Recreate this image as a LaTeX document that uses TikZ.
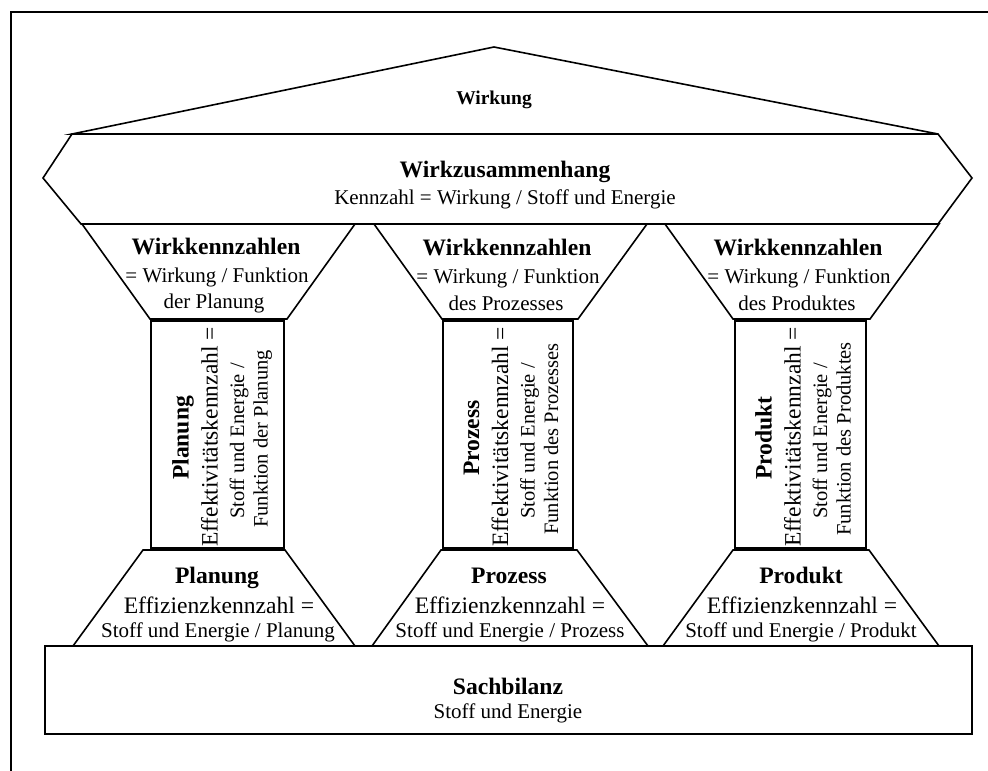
\documentclass[tikz,border=0pt]{standalone}
\usepackage{fontspec}
\setmainfont{Liberation Serif}
\begin{document}
\begin{tikzpicture}[x=1pt,y=-1pt,
  outline/.style={draw=black,line width=1.6pt,line join=miter,fill=white},
  frameline/.style={draw=black,line width=1.5pt},
  title/.style={font=\fontsize{23.6}{27}\selectfont\bfseries,anchor=base,inner sep=0pt},
  body/.style={font=\fontsize{21}{25}\selectfont,anchor=base,inner sep=0pt},
  big/.style={font=\fontsize{23.6}{27}\selectfont,anchor=base,inner sep=0pt}]
\useasboundingbox (0,0) rectangle (988,771);
% page frame
\draw[frameline] (11,771) -- (11,12) -- (988,12);

% roof
\draw[outline] (72,134) -- (494,47) -- (938,134) -- cycle;
\node[title,font=\fontsize{19.5}{23}\selectfont\bfseries] (roof) at (494,104) {Wirkung};

% entablature
\draw[outline] (72,134) -- (938,134) -- (972,178) -- (938,224) -- (81,224) -- (43,178) -- cycle;
\node[title] (wz) at (505,177) {Wirkzusammenhang};
\node[body] (wzk) at (505,204) {Kennzahl = Wirkung / Stoff und Energie};

% capitals
\draw[outline] (82,224) -- (355,224) -- (287,319) -- (150,319) -- cycle;
\draw[outline] (374,224) -- (647,224) -- (578,319) -- (442,319) -- cycle;
\draw[outline] (665,224) -- (939,224) -- (870,319) -- (733,319) -- cycle;
\node[title] (capA) at (216,254) {Wirkkennzahlen};
\node[body] (capAa) at (217,282) {= Wirkung / Funktion};
\node[body] (capAb) at (214,308) {der Planung};
\node[title] (capB) at (507,255) {Wirkkennzahlen};
\node[body] (capBa) at (508,283) {= Wirkung / Funktion};
\node[body] (capBb) at (506,310) {des Prozesses};
\node[title] (capC) at (798,255) {Wirkkennzahlen};
\node[body] (capCa) at (799,283) {= Wirkung / Funktion};
\node[body] (capCb) at (797,310) {des Produktes};

% shafts
\draw[outline] (151,321) rectangle (284,548);
\draw[outline] (443,321) rectangle (573,548);
\draw[outline] (735,321) rectangle (866,548);
\foreach \cx/\nm/\fn/\id in {217.5/Planung/Funktion der Planung/A,
                             508/Prozess/Funktion des Prozesses/B,
                             800.5/Produkt/Funktion des Produktes/C}{
  \node[title,rotate=90] (shaft\id) at (\cx-29,438) {\nm};
  \node[big,font=\fontsize{23.5}{27}\selectfont,rotate=90] (shaft\id a) at (\cx,437) {Effektivitätskennzahl =};
  \node[body,font=\fontsize{20.5}{24}\selectfont,rotate=90] (shaft\id b) at (\cx+26.5,441) {Stoff und Energie /};
  \node[body,font=\fontsize{20.5}{24}\selectfont,rotate=90] (shaft\id c) at (\cx+50,439) {\fn};
}

% bases of the columns
\draw[outline] (143,550) -- (285,550) -- (355,646) -- (73,646) -- cycle;
\draw[outline] (441,550) -- (577,550) -- (648,646) -- (372,646) -- cycle;
\draw[outline] (733,550) -- (869,550) -- (939,646) -- (663,646) -- cycle;
\node[title] (baseA) at (217,583) {Planung};
\node[big] (baseAa) at (219,613) {Effizienzkennzahl =};
\node[body] (baseAb) at (218,637) {Stoff und Energie / Planung};
\node[title] (baseB) at (509,583) {Prozess};
\node[big] (baseBa) at (510,613) {Effizienzkennzahl =};
\node[body] (baseBb) at (510,637) {Stoff und Energie / Prozess};
\node[title] (baseC) at (801,583) {Produkt};
\node[big] (baseCa) at (802,613) {Effizienzkennzahl =};
\node[body] (baseCb) at (801,637) {Stoff und Energie / Produkt};

% foundation
\draw[outline] (45,646) rectangle (972,734);
\node[title] (sb) at (508,694) {Sachbilanz};
\node[body] (sbk) at (508,718) {Stoff und Energie};
\end{tikzpicture}
\end{document}
